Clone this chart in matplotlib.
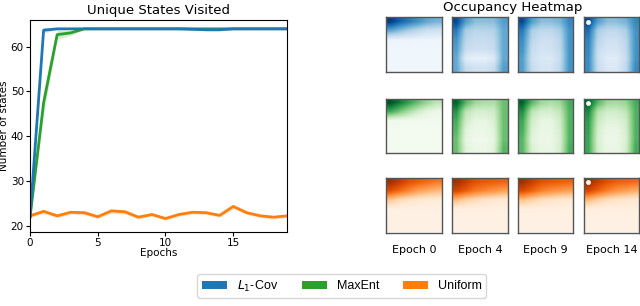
import numpy as np
import matplotlib
matplotlib.use("Agg")
import matplotlib.pyplot as plt
from matplotlib.patches import Patch

# ── Data ──────────────────────────────────────────────────────────────────
epochs = np.arange(20)
l1cov = [22.0, 63.7, 64.0, 64.0, 64.0, 64.0, 64.0, 64.0, 64.0, 64.0,
         64.0, 64.0, 63.9, 63.8, 63.8, 64.0, 64.0, 64.0, 64.0, 64.0]
l1cov_err = [0.3, 0.6, 0.2, 0.1, 0.1, 0.1, 0.1, 0.1, 0.1, 0.1,
             0.1, 0.1, 0.2, 0.3, 0.3, 0.1, 0.1, 0.1, 0.1, 0.1]
maxent = [22.0, 47.5, 62.7, 63.1, 64.0, 64.0, 64.0, 64.0, 64.0, 64.0,
          64.0, 64.0, 64.0, 64.0, 64.0, 64.0, 64.0, 64.0, 64.0, 64.0]
maxent_err = [0.3, 2.5, 1.0, 0.6, 0.1, 0.1, 0.1, 0.1, 0.1, 0.1,
              0.1, 0.1, 0.1, 0.1, 0.1, 0.1, 0.1, 0.1, 0.1, 0.1]
uniform = [22.2, 23.2, 22.2, 23.0, 22.9, 22.0, 23.3, 23.1, 21.9, 22.5,
           21.6, 22.5, 23.0, 22.9, 22.3, 24.3, 22.9, 22.2, 21.9, 22.2]
uniform_err = [0.4, 0.5, 0.4, 0.4, 0.5, 0.4, 0.5, 0.5, 0.4, 0.4,
               0.4, 0.4, 0.4, 0.4, 0.4, 0.5, 0.4, 0.4, 0.4, 0.4]

heat_epochs = ["Epoch 0", "Epoch 4", "Epoch 9", "Epoch 14"]

# occupancy grids (6x6, top row first), one list per method
blue_maps = [
    [[1.00, 0.85, 0.75, 0.65, 0.55, 0.50],
     [0.55, 0.45, 0.35, 0.28, 0.22, 0.20],
     [0.06, 0.06, 0.06, 0.05, 0.05, 0.05],
     [0.04, 0.04, 0.04, 0.04, 0.04, 0.04],
     [0.04, 0.04, 0.04, 0.04, 0.04, 0.04],
     [0.04, 0.04, 0.04, 0.04, 0.04, 0.04]],
    [[0.95, 0.60, 0.45, 0.45, 0.45, 0.60],
     [0.75, 0.35, 0.30, 0.30, 0.32, 0.55],
     [0.65, 0.30, 0.25, 0.25, 0.28, 0.55],
     [0.60, 0.25, 0.22, 0.22, 0.25, 0.55],
     [0.55, 0.12, 0.08, 0.08, 0.15, 0.55],
     [0.55, 0.25, 0.20, 0.20, 0.25, 0.60]],
    [[0.95, 0.60, 0.45, 0.45, 0.50, 0.70],
     [0.75, 0.35, 0.28, 0.28, 0.35, 0.65],
     [0.68, 0.30, 0.22, 0.22, 0.30, 0.65],
     [0.65, 0.25, 0.20, 0.20, 0.28, 0.65],
     [0.60, 0.22, 0.15, 0.15, 0.25, 0.65],
     [0.60, 0.25, 0.18, 0.18, 0.28, 0.65]],
    [[0.95, 0.60, 0.45, 0.45, 0.50, 0.70],
     [0.80, 0.35, 0.28, 0.28, 0.35, 0.65],
     [0.72, 0.30, 0.22, 0.22, 0.30, 0.65],
     [0.70, 0.25, 0.18, 0.18, 0.28, 0.65],
     [0.68, 0.22, 0.12, 0.12, 0.25, 0.65],
     [0.68, 0.25, 0.15, 0.15, 0.28, 0.68]],
]
green_maps = [
    [[1.00, 0.85, 0.70, 0.55, 0.40, 0.30],
     [0.65, 0.50, 0.35, 0.22, 0.12, 0.08],
     [0.05, 0.05, 0.04, 0.04, 0.04, 0.04],
     [0.03, 0.03, 0.03, 0.03, 0.03, 0.03],
     [0.03, 0.03, 0.03, 0.03, 0.03, 0.03],
     [0.03, 0.03, 0.03, 0.03, 0.03, 0.03]],
    [[0.95, 0.60, 0.40, 0.35, 0.35, 0.55],
     [0.75, 0.30, 0.20, 0.20, 0.22, 0.55],
     [0.65, 0.22, 0.12, 0.12, 0.18, 0.55],
     [0.60, 0.15, 0.08, 0.08, 0.15, 0.55],
     [0.55, 0.12, 0.06, 0.06, 0.12, 0.55],
     [0.55, 0.15, 0.08, 0.08, 0.15, 0.60]],
    [[0.95, 0.60, 0.40, 0.35, 0.40, 0.65],
     [0.78, 0.30, 0.20, 0.20, 0.28, 0.62],
     [0.68, 0.22, 0.12, 0.12, 0.22, 0.62],
     [0.65, 0.18, 0.10, 0.10, 0.20, 0.62],
     [0.60, 0.15, 0.08, 0.08, 0.18, 0.62],
     [0.60, 0.18, 0.10, 0.10, 0.20, 0.65]],
    [[0.95, 0.60, 0.40, 0.38, 0.42, 0.65],
     [0.80, 0.32, 0.22, 0.22, 0.28, 0.62],
     [0.72, 0.25, 0.15, 0.15, 0.22, 0.62],
     [0.70, 0.20, 0.10, 0.10, 0.20, 0.62],
     [0.68, 0.18, 0.08, 0.08, 0.18, 0.62],
     [0.68, 0.20, 0.10, 0.10, 0.20, 0.65]],
]
orange_maps = [
    [[0.95, 0.85, 0.75, 0.70, 0.65, 0.60],
     [0.75, 0.65, 0.55, 0.45, 0.40, 0.35],
     [0.30, 0.20, 0.15, 0.12, 0.10, 0.08],
     [0.04, 0.04, 0.04, 0.04, 0.04, 0.04],
     [0.03, 0.03, 0.03, 0.03, 0.03, 0.03],
     [0.03, 0.03, 0.03, 0.03, 0.03, 0.03]],
    [[0.95, 0.85, 0.75, 0.72, 0.70, 0.68],
     [0.80, 0.70, 0.60, 0.55, 0.50, 0.45],
     [0.35, 0.25, 0.20, 0.15, 0.12, 0.10],
     [0.05, 0.05, 0.05, 0.05, 0.05, 0.05],
     [0.03, 0.03, 0.03, 0.03, 0.03, 0.03],
     [0.03, 0.03, 0.03, 0.03, 0.03, 0.03]],
    [[0.95, 0.85, 0.75, 0.72, 0.70, 0.68],
     [0.78, 0.68, 0.58, 0.52, 0.48, 0.45],
     [0.32, 0.25, 0.18, 0.15, 0.12, 0.10],
     [0.05, 0.05, 0.05, 0.05, 0.05, 0.05],
     [0.03, 0.03, 0.03, 0.03, 0.03, 0.03],
     [0.03, 0.03, 0.03, 0.03, 0.03, 0.03]],
    [[0.95, 0.85, 0.75, 0.70, 0.68, 0.65],
     [0.80, 0.68, 0.58, 0.50, 0.45, 0.40],
     [0.35, 0.25, 0.18, 0.14, 0.12, 0.10],
     [0.06, 0.05, 0.05, 0.05, 0.05, 0.05],
     [0.03, 0.03, 0.03, 0.03, 0.03, 0.03],
     [0.03, 0.03, 0.03, 0.03, 0.03, 0.03]],
]

COLORS = {"l1": "#1f77b4", "maxent": "#2ca02c", "uniform": "#ff7f0e"}

fig = plt.figure(figsize=(6.4, 3.06), dpi=100)

# ── Left: unique states ───────────────────────────────────────────────────
ax = fig.add_axes([0.047, 0.242, 0.402, 0.693])
for y, e, c in [(uniform, uniform_err, COLORS["uniform"]),
                (maxent, maxent_err, COLORS["maxent"]),
                (l1cov, l1cov_err, COLORS["l1"])]:
    y = np.array(y); e = np.array(e)
    ax.fill_between(epochs, y - e, y + e, color=c, alpha=0.2, linewidth=0)
    ax.plot(epochs, y, color=c, linewidth=2)
ax.set_xlim(0, 19)
ax.set_ylim(18.6, 66)
ax.set_xticks([0, 5, 10, 15])
ax.set_yticks([20, 30, 40, 50, 60])
ax.tick_params(labelsize=7.5, length=3, pad=1.5)
ax.set_title("Unique States Visited", fontsize=9.5, pad=4)
ax.set_xlabel("Epochs", fontsize=7.5, labelpad=0)
ax.set_ylabel("Number of states", fontsize=7.5)
ax.yaxis.set_label_coords(-0.082, 0.5)

# ── Right: occupancy heatmaps ─────────────────────────────────────────────
col_left = [386, 452.3, 517.7, 583.7]
row_top = [17.3, 98.8, 178.0]
W, H = 640.0, 306.0
for r, (maps, cmap) in enumerate([(blue_maps, "Blues"), (green_maps, "Greens"),
                                   (orange_maps, "Oranges")]):
    for c in range(4):
        hax = fig.add_axes([col_left[c] / W, 1 - (row_top[r] + 54.5) / H,
                            55.5 / W, 54.5 / H])
        hax.imshow(np.array(maps[c]), cmap=cmap, vmin=0, vmax=1.05,
                   interpolation="bilinear", extent=(0, 1, 1, 0), aspect="auto")
        if c == 3:
            hax.scatter([0.08], [0.08], s=6, color="white", zorder=3)
        hax.set_xlim(0, 1); hax.set_ylim(1, 0)
        hax.set_xticks([]); hax.set_yticks([])
        for sp in hax.spines.values():
            sp.set_color("#555555"); sp.set_linewidth(1.0)
        if r == 2:
            hax.set_xlabel(heat_epochs[c], fontsize=8, labelpad=9)

fig.text(512.7 / W, 1 - 7 / H, "Occupancy Heatmap", fontsize=9.5,
         ha="center", va="center")

# ── Legend ────────────────────────────────────────────────────────────────
handles = [Patch(facecolor=COLORS["l1"], label="$L_1$-Cov"),
           Patch(facecolor=COLORS["maxent"], label="MaxEnt"),
           Patch(facecolor=COLORS["uniform"], label="Uniform")]
fig.legend(handles=handles, loc="lower center", bbox_to_anchor=(0.534, 0.006),
           ncol=3, frameon=True, handlelength=2.0, handleheight=0.6,
           columnspacing=1.9, borderpad=0.35, handletextpad=0.8,
           prop={"family": "Liberation Sans", "size": 9})

fig.savefig("out.png", dpi=100)
